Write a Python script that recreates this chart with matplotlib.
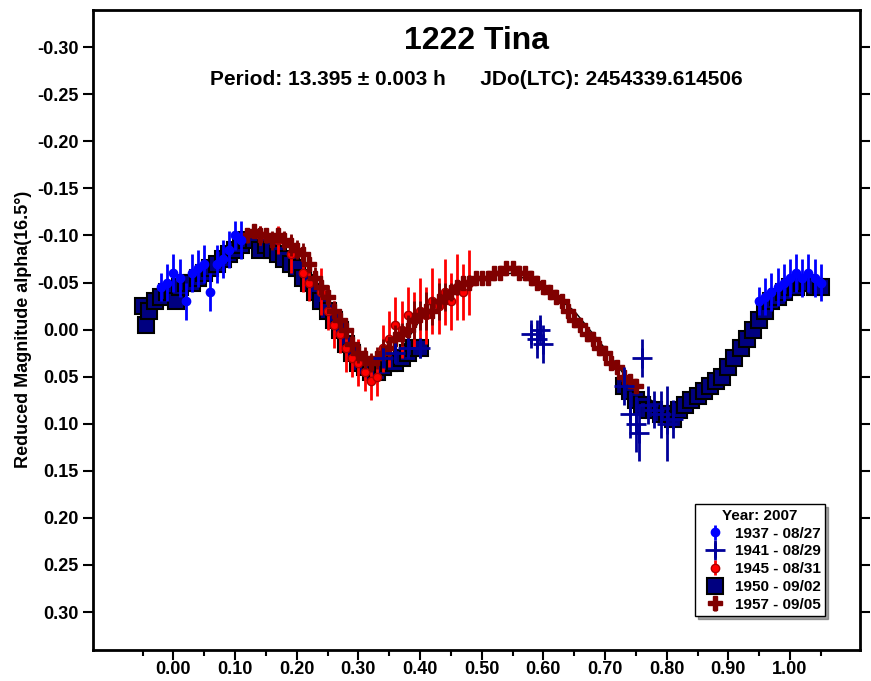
import matplotlib
matplotlib.use("Agg")
import matplotlib.pyplot as plt

# Series 1950 - 09/02 (navy squares)
x1950 = [-0.05,-0.045,-0.04,-0.03,-0.02,-0.01,0.00,0.005,0.01,0.02,0.03,0.04,0.05,0.06,0.07,0.08,0.09,0.10,0.11,0.12,0.13,0.14,0.15,0.16,0.17,0.18,0.19,0.20,0.21,0.22,0.23,0.24,0.25,0.26,0.27,0.28,0.29,0.30,0.31,0.32,0.33,0.34,0.35,0.36,0.37,0.38,0.39,0.40,
         0.73,0.74,0.75,0.76,0.77,0.78,0.79,0.80,0.81,0.82,0.83,0.84,0.85,0.86,0.87,0.88,0.89,0.90,0.91,0.92,0.93,0.94,0.95,0.96,0.97,0.98,0.99,1.00,1.01,1.02,1.03,1.04,1.05]
y1950 = [-0.025,-0.005,-0.02,-0.03,-0.035,-0.04,-0.04,-0.03,-0.045,-0.05,-0.05,-0.055,-0.06,-0.065,-0.07,-0.075,-0.08,-0.085,-0.09,-0.095,-0.095,-0.085,-0.09,-0.085,-0.08,-0.075,-0.07,-0.065,-0.055,-0.05,-0.04,-0.03,-0.02,-0.01,0.0,0.015,0.025,0.035,0.04,0.045,0.045,0.04,0.035,0.035,0.03,0.025,0.02,0.02,
         0.06,0.065,0.075,0.08,0.085,0.085,0.09,0.09,0.095,0.085,0.08,0.075,0.07,0.065,0.06,0.055,0.05,0.04,0.03,0.02,0.01,0.0,-0.01,-0.02,-0.03,-0.035,-0.04,-0.045,-0.045,-0.05,-0.05,-0.045,-0.045]

# Series 1957 - 09/05 (dark red plus)
x1957 = [0.12,0.13,0.14,0.15,0.16,0.17,0.18,0.19,0.20,0.21,0.22,0.23,0.24,0.25,0.26,0.27,0.28,0.29,0.30,0.31,0.32,0.33,0.34,0.35,0.36,0.37,0.38,0.39,0.40,0.41,0.42,0.43,0.44,0.45,0.46,0.47,0.48,0.49,0.50,0.51,0.52,0.53,0.54,0.55,0.56,0.57,0.58,0.59,0.60,0.61,0.62,0.63,0.64,0.65,0.66,0.67,0.68,0.69,0.70,0.71,0.72,0.73,0.74,0.75]
y1957 = [-0.10,-0.105,-0.10,-0.10,-0.095,-0.10,-0.095,-0.09,-0.085,-0.08,-0.07,-0.055,-0.045,-0.035,-0.02,-0.01,0.0,0.015,0.025,0.03,0.035,0.03,0.025,0.02,0.01,0.005,0.0,-0.01,-0.015,-0.02,-0.02,-0.03,-0.035,-0.04,-0.045,-0.05,-0.05,-0.055,-0.055,-0.055,-0.06,-0.06,-0.065,-0.065,-0.06,-0.06,-0.055,-0.05,-0.045,-0.04,-0.035,-0.03,-0.02,-0.01,-0.005,0.005,0.01,0.02,0.025,0.035,0.04,0.05,0.055,0.06]
e1957 = [0.008,0.006,0.01,0.008,0.01,0.008,0.01,0.012,0.01,0.012,0.01,0.012,0.01,0.012,0.01,0.012,0.01,0.012,0.01,0.012,0.01,0.012,0.015,0.012,0.015,0.012,0.015,0.02,0.015,0.02,0.015,0.02,0.015,0.01,0.008,0.006,0.008,0.006,0.005,0.006,0.005,0.006,0.005,0.006,0.005,0.006,0.006,0.006,0.006,0.006,0.006,0.006,0.006,0.006,0.006,0.006,0.006,0.006,0.006,0.006,0.006,0.006,0.006,0.006]

# Series 1945 - 08/31 (red circles)
x1945 = [0.14,0.17,0.19,0.21,0.22,0.24,0.25,0.26,0.27,0.28,0.29,0.30,0.31,0.32,0.33,0.34,0.35,0.36,0.37,0.38,0.39,0.40,0.41,0.42,0.43,0.44,0.45,0.46,0.47,0.48]
y1945 = [-0.10,-0.095,-0.08,-0.06,-0.05,-0.04,-0.02,-0.005,0.005,0.02,0.03,0.035,0.045,0.055,0.05,0.02,0.01,-0.005,0.0,-0.015,-0.01,-0.02,-0.015,-0.03,-0.025,-0.04,-0.03,-0.045,-0.04,-0.05]
e1945 = [0.01,0.015,0.02,0.02,0.02,0.025,0.02,0.025,0.02,0.025,0.02,0.025,0.02,0.02,0.02,0.025,0.03,0.03,0.03,0.03,0.03,0.035,0.03,0.035,0.03,0.035,0.03,0.035,0.03,0.035]

# Series 1937 - 08/27 (blue circles)
x1937 = [-0.02,-0.01,0.0,0.01,0.02,0.03,0.04,0.05,0.06,0.07,0.08,0.09,0.10,0.11,0.95,0.96,0.97,0.98,0.99,1.00,1.01,1.02,1.03,1.04,1.05]
y1937 = [-0.045,-0.05,-0.06,-0.055,-0.03,-0.06,-0.065,-0.07,-0.04,-0.07,-0.075,-0.085,-0.10,-0.095,-0.03,-0.035,-0.04,-0.045,-0.05,-0.055,-0.06,-0.055,-0.06,-0.055,-0.05]
e1937 = [0.015,0.02,0.02,0.02,0.02,0.02,0.02,0.02,0.02,0.02,0.02,0.02,0.015,0.02,0.015,0.02,0.02,0.02,0.02,0.02,0.02,0.02,0.02,0.02,0.02]

# Series 1941 - 08/29 (navy plus)
x1941 = [0.34,0.36,0.38,0.40,0.58,0.59,0.595,0.60,0.73,0.74,0.75,0.755,0.76,0.77,0.78,0.79,0.80,0.81]
y1941 = [0.03,0.025,0.02,0.02,0.005,0.01,0.0,0.015,0.06,0.09,0.10,0.11,0.03,0.08,0.085,0.09,0.10,0.095]
e1941 = [0.01,0.01,0.01,0.01,0.015,0.02,0.015,0.02,0.02,0.025,0.03,0.03,0.02,0.02,0.02,0.025,0.04,0.02]

# Fit curve nodes (black line)
xfit = [-0.05,0.0,0.05,0.10,0.13,0.17,0.20,0.25,0.28,0.32,0.36,0.40,0.45,0.50,0.55,0.60,0.65,0.70,0.75,0.80,0.85,0.90,0.95,1.00,1.05]
yfit = [-0.025,-0.04,-0.055,-0.08,-0.095,-0.09,-0.07,-0.03,0.01,0.04,0.03,-0.01,-0.04,-0.055,-0.06,-0.045,-0.02,0.02,0.065,0.085,0.075,0.04,-0.005,-0.04,-0.05]

yticks = [-0.30,-0.25,-0.20,-0.15,-0.10,-0.05,0.00,0.05,0.10,0.15,0.20,0.25,0.30]
xticks = [0.0,0.1,0.2,0.3,0.4,0.5,0.6,0.7,0.8,0.9,1.0]

plt.rcParams['font.family'] = 'Liberation Sans'
plt.rcParams['font.weight'] = 'bold'
fig = plt.figure(figsize=(8.71, 6.81), dpi=100)
ax = fig.add_axes([0.107, 0.046, 0.880, 0.940])

ax.plot(xfit, yfit, color='black', lw=1, zorder=1)
ax.errorbar(x1950, y1950, fmt='s', ms=12, mfc='#000080', mec='black', mew=1.5, color='#000080', zorder=2, label='1950 - 09/02')
ax.errorbar(x1945, y1945, yerr=e1945, fmt='o', ms=6, color='#ff0000', mec='#aa0000', elinewidth=2, zorder=3, label='1945 - 08/31')
ax.errorbar(x1957, y1957, yerr=e1957, fmt='P', ms=10, color='#800000', elinewidth=2, zorder=4, label='1957 - 09/05')
ax.errorbar(x1937, y1937, yerr=e1937, fmt='o', ms=6, color='#0000ff', elinewidth=2, zorder=5, label='1937 - 08/27')
ax.errorbar(x1941, y1941, yerr=e1941, fmt='+', ms=14, mew=2, color='#000099', elinewidth=2, zorder=6, label='1941 - 08/29')

ax.set_xlim(-0.13, 1.113)
ax.set_ylim(0.34, -0.34)
ax.set_yticks(yticks)
ax.set_yticklabels([f"{v:.2f}" for v in yticks])
ax.set_xticks(xticks)
ax.set_xticklabels([f"{v:.2f}" for v in xticks])
ax.set_xticks([v + 0.05 for v in [-0.1] + xticks], minor=True)
ax.tick_params(axis='both', labelsize=13, width=1.5, length=7, direction='out')
ax.tick_params(axis='x', pad=1)
ax.tick_params(axis='x', which='minor', length=4, width=1.5, direction='out')
ax.tick_params(right=True, top=False)
for s in ax.spines.values():
    s.set_linewidth(2)
ax.set_ylabel('Reduced Magnitude alpha(16.5°)', fontsize=13, fontweight='bold')

ax.text(0.5, 0.975, '1222 Tina', transform=ax.transAxes, ha='center', va='top', fontsize=23, fontweight='bold')
ax.text(0.5, 0.905, 'Period: 13.395 ± 0.003 h      JDo(LTC): 2454339.614506', transform=ax.transAxes,
        ha='center', va='top', fontsize=15, fontweight='bold')

h, l = ax.get_legend_handles_labels()
order = [3, 4, 1, 0, 2]
leg = ax.legend([h[i] for i in order], [l[i] for i in order], loc='lower right', title='Year: 2007',
                fontsize=11, title_fontproperties={'weight': 'bold', 'size': 11}, fancybox=False,
                shadow=True, framealpha=1, edgecolor='black', borderpad=0.3, handletextpad=0.3,
                labelspacing=0.25, bbox_to_anchor=(0.965, 0.04))
for t in leg.get_texts():
    t.set_fontweight('bold')

fig.savefig('out.png', dpi=100)
